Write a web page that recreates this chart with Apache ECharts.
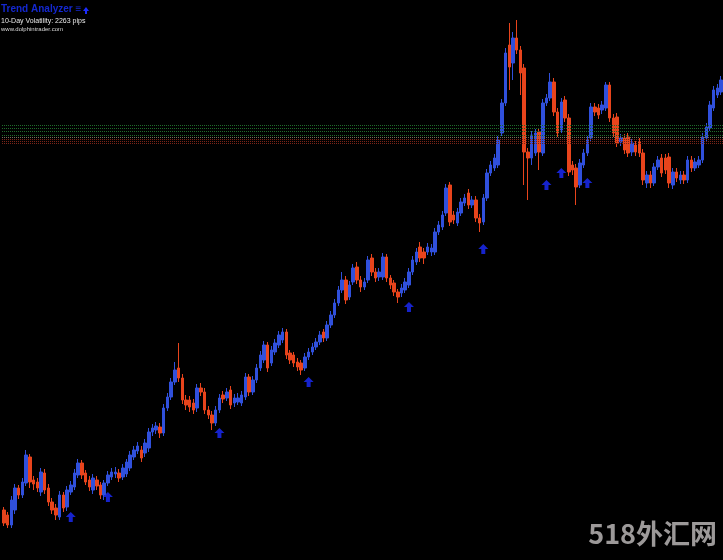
<!DOCTYPE html>
<html>
<head>
<meta charset="utf-8">
<title>Trend Analyzer</title>
<script src="https://cdn.jsdelivr.net/npm/echarts@6/dist/echarts.min.js"></script>
<style>
  html, body { margin: 0; padding: 0; background: #000; }
  #chart { width: 723px; height: 560px; }
</style>
</head>
<body>
<div id="chart"></div>
<script>
// candle values (price units, bottom of window = 0)
const opens = [
  50,45,35,50,72,65,77,103,80,78, 68,87,72,58,52,43,65,53,68,73,
  85,97,87,80,70,80,75,65,77,83, 86,87,83,86,92,103,109,110,107,112,
  128,130,133,127,152,163,178,192,182,160, 160,157,152,172,168,150,145,137,150,165,
  162,170,157,158,157,163,183,168,180,192, 200,215,197,208,215,220,228,207,205,198,
  197,192,203,208,213,218,228,222,235,245, 257,270,280,263,278,293,280,273,280,302,
  288,283,283,303,282,277,268,267,270,275, 288,298,313,308,308,308,308,328,333,347,
  375,345,337,347,357,367,355,360,342,338, 362,387,392,395,427,457,515,497,522,510,
  492,408,402,407,428,407,457,462,478,448, 430,460,442,395,392,375,395,407,422,453,
  452,450,452,475,442,443,418,422,423,408, 415,418,407,377,385,377,393,402,402,403,
  375,388,380,385,380,400,392,395,400,422, 432,452,465,468
];
const closes = [
  37,35,60,72,65,78,105,78,76,72, 88,70,58,50,45,65,52,70,75,87,
  97,85,78,73,82,74,65,77,85,88, 88,82,92,98,105,110,114,102,117,128,
  132,134,127,152,163,178,190,182,160,155, 153,150,172,168,150,145,137,150,162,161,
  168,155,162,162,165,183,168,180,192,205, 215,192,210,217,225,228,205,200,197,193,
  190,203,208,213,218,225,222,235,245,257, 270,280,260,275,292,280,273,278,300,288,
  282,288,303,282,275,268,263,272,278,288, 300,308,302,302,313,312,328,335,345,372,
  338,340,348,358,362,355,360,342,337,362, 387,395,402,420,457,507,493,522,510,487,
  408,402,425,427,408,457,462,478,448,427, 458,442,388,390,373,397,407,420,453,448,
  445,455,475,442,427,417,422,410,407,417, 408,407,380,385,377,393,400,387,390,377,
  388,382,385,380,400,392,398,400,423,433, 455,470,472,480
];
const lows = [
  34,32,32,46,61,62,74,72,70,68, 64,66,54,46,40,40,48,49,65,70,
  82,81,75,69,66,70,61,60,74,80, 82,78,80,83,89,100,106,98,103,108,
  124,126,122,124,149,160,175,178,156,150, 148,146,148,164,146,141,130,134,147,157,
  159,151,153,155,154,160,164,165,177,189, 197,188,194,205,212,217,201,196,193,189,
  185,189,200,205,210,215,218,219,232,242, 254,267,256,260,275,276,268,270,277,284,
  278,279,280,278,271,264,257,263,267,272, 285,295,298,296,305,304,305,325,330,344,
  334,336,334,344,354,351,352,338,328,335, 359,384,389,392,424,454,470,480,506,465,
  375,360,395,404,390,404,454,459,444,423, 427,438,384,385,355,372,392,404,419,444,
  441,446,449,438,423,413,414,406,403,404, 404,403,375,372,372,374,390,383,386,372,
  371,378,376,376,377,388,389,392,397,419, 429,449,462,465
];
const highs = [
  53,48,64,76,75,82,110,106,84,82, 92,91,76,62,56,69,68,74,79,91,
  101,100,90,84,86,84,78,80,89,92, 93,91,96,101,109,114,118,114,121,132,
  136,138,137,156,167,182,198,217,186,165, 164,161,176,177,172,154,149,154,166,169,
  172,174,166,167,169,187,186,184,196,209, 219,218,214,221,229,232,231,210,208,202,
  200,207,212,217,222,229,231,239,249,261, 274,288,284,279,296,298,284,282,304,306,
  292,292,307,306,285,280,271,276,282,292, 304,312,318,312,317,316,332,339,349,376,
  378,349,352,362,366,371,364,364,346,366, 391,399,406,424,461,512,537,528,540,514,
  496,412,429,431,432,461,466,487,482,452, 462,464,446,399,396,401,411,424,457,457,
  456,459,478,478,446,447,426,426,427,421, 419,422,411,389,389,397,404,406,406,407,
  392,392,389,389,404,404,402,404,427,437, 459,474,476,484
];

// buy arrows: candle index and price
const signalIdx = [18, 28, 58, 82, 109, 129, 146, 150, 157];
const signalPrice = [43, 63, 127, 178, 253, 311, 375, 387, 377];

// horizontal levels
const greenLevels = [435, 431.7, 428.3, 425];
const greyLevels = [422.7];
const redLevels = [421, 418.3, 416.7];

const categories = opens.map((_, i) => String(i));
const candles = opens.map((o, i) => [o, closes[i], lows[i], highs[i]]);
const signals = signalIdx.map((k, i) => [String(k), signalPrice[i]]);

const levelLines = []
  .concat(greenLevels.map(v => ({ yAxis: v, lineStyle: { color: '#1f6a2a' } })))
  .concat(greyLevels.map(v => ({ yAxis: v, lineStyle: { color: '#7a6a5a' } })))
  .concat(redLevels.map(v => ({ yAxis: v, lineStyle: { color: '#7a2418' } })));

const chart = echarts.init(document.getElementById('chart'));

const option = {
  backgroundColor: '#000000',
  animation: false,
  grid: { left: 2, right: 0, top: 0, bottom: 0 },
  xAxis: {
    type: 'category',
    data: categories,
    boundaryGap: true,
    show: false
  },
  yAxis: {
    type: 'value',
    min: 0,
    max: 560,
    show: false,
    splitLine: { show: false }
  },
  series: [
    {
      // levels sit behind the candles
      type: 'line',
      data: [],
      z: 1,
      silent: true,
      markLine: {
        symbol: 'none',
        silent: true,
        label: { show: false },
        lineStyle: { type: 'dotted', width: 1 },
        data: levelLines
      }
    },
    {
      type: 'candlestick',
      z: 3,
      barWidth: 3,
      data: candles,
      itemStyle: {
        color: '#3050dc',
        borderColor: '#3050dc',
        color0: '#e8441c',
        borderColor0: '#e8441c',
        borderWidth: 1
      }
    },
    {
      type: 'scatter',
      z: 4,
      data: signals,
      symbol: 'path://M5 0 L10 5 L7 5 L7 10 L3 10 L3 5 L0 5 Z',
      symbolSize: [10, 10],
      itemStyle: { color: '#1c2cff' }
    }
  ],
  graphic: [
    {
      type: 'text', left: 1, top: 4,
      style: { text: 'Trend Analyzer ≡', fill: '#1428d0', font: 'bold 10px "Liberation Sans", Arial, sans-serif' }
    },
    {
      type: 'polygon',
      shape: { points: [[86, 7], [89, 11], [87, 11], [87, 14], [85, 14], [85, 11], [83, 11]] },
      style: { fill: '#1c2cff' }
    },
    {
      type: 'text', left: 1, top: 18,
      style: { text: '10-Day Volatility: 2263 pips', fill: '#e8e8e8', font: '7px "Liberation Sans", Arial, sans-serif' }
    },
    {
      type: 'text', left: 1, top: 26,
      style: { text: 'www.dolphintrader.com', fill: '#d8d8d8', font: '6px "Liberation Sans", Arial, sans-serif' }
    },
    {
      type: 'text', right: 6, top: 520,
      style: { text: '518外汇网', fill: '#9c9999', font: 'bold 27px "Noto Sans CJK SC", sans-serif' }
    }
  ]
};

chart.setOption(option);
</script>
</body>
</html>
